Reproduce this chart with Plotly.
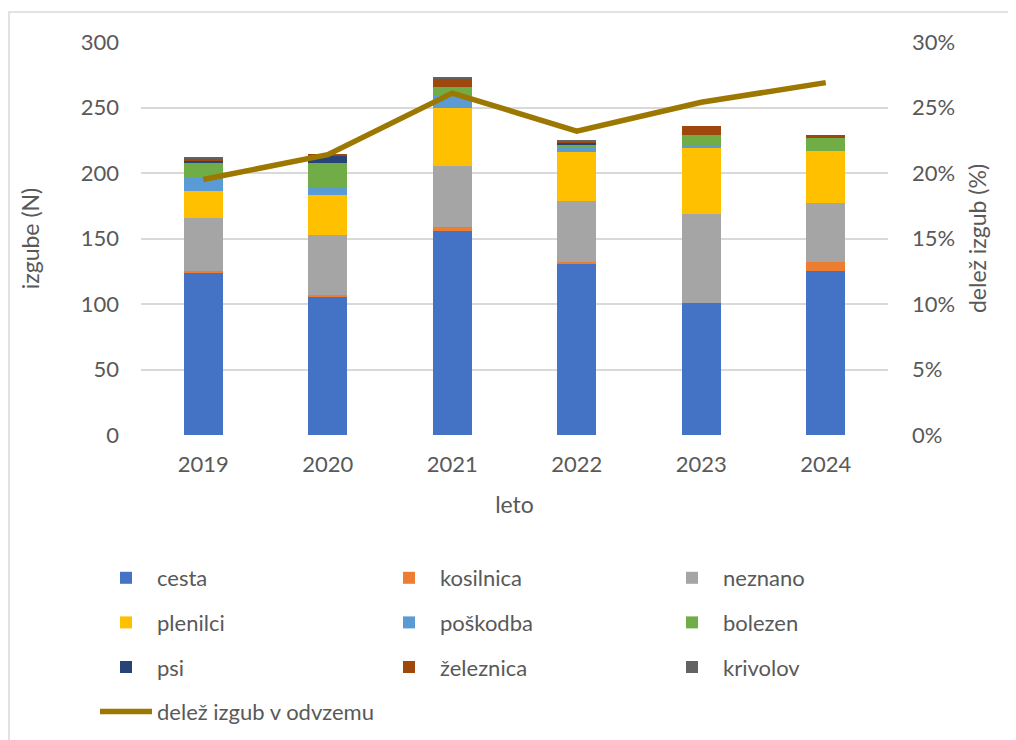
import plotly.graph_objects as go

years = ["2019", "2020", "2021", "2022", "2023", "2024"]

cesta = [124, 105, 156, 131, 101, 125]
kosilnica = [1, 2, 3, 1, 0, 7]
neznano = [41, 46, 46, 47, 68, 45]
plenilci = [20, 30, 45, 37, 50, 40]
poskodba = [10, 6, 9, 3, 2, 0]
bolezen = [12, 19, 7, 3, 8, 10]
psi = [1, 5, 0, 1, 0, 0]
zeleznica = [2, 1, 6, 1, 7, 2]
krivolov = [1, 0, 1, 1, 0, 0]
delez = [0.195, 0.214, 0.261, 0.232, 0.254, 0.269]

series = [
    ("cesta", cesta, "#4472C4"),
    ("kosilnica", kosilnica, "#ED7D31"),
    ("neznano", neznano, "#A5A5A5"),
    ("plenilci", plenilci, "#FFC000"),
    ("poškodba", poskodba, "#5B9BD5"),
    ("bolezen", bolezen, "#70AD47"),
    ("psi", psi, "#264478"),
    ("železnica", zeleznica, "#9E480E"),
    ("krivolov", krivolov, "#636363"),
]

FONT = "Lato, Carlito, Calibri, sans-serif"
TXT = "#595959"
GRID = "#D9D9D9"
FS = 22

fig = go.Figure()
for i, (name, vals, col) in enumerate(series):
    fig.add_trace(go.Bar(x=years, y=vals, name=name, legendgroup=f"g{i}",
                         marker=dict(color=col, line=dict(width=0))))

fig.add_trace(go.Scatter(x=years, y=delez, name="delež izgub v odvzemu", yaxis="y2",
                         legendgroup="gline", mode="lines",
                         line=dict(color="#9C7800", width=5.5)))

# page has an 8px body margin: work in reference pixels and shift
OFF = 8
W, H = 1016 - OFF, 740 - OFF
L, R, T, B = 141 - OFF, 888 - OFF, 42 - OFF, 435 - OFF
pw, ph = R - L, B - T


def px(x):
    return (x - OFF - L) / pw


def py(y):
    return (B - (y - OFF)) / ph


fig.update_layout(
    width=W, height=H,
    margin=dict(l=L, r=W - R, t=T, b=H - B, pad=0, autoexpand=False),
    barmode="stack", bargap=0.687,
    plot_bgcolor="white", paper_bgcolor="white",
    font=dict(family=FONT, size=FS, color=TXT),
    showlegend=True,
    legend=dict(orientation="h", x=px(95), y=py(557), xanchor="left", yanchor="top",
                entrywidth=283 - 67, entrywidthmode="pixels", traceorder="grouped",
                tracegroupgap=13, itemwidth=52,
                font=dict(family=FONT, size=FS, color=TXT),
                bgcolor="rgba(0,0,0,0)"),
    xaxis=dict(showgrid=False, showline=False, zeroline=False, ticks="",
               tickfont=dict(size=FS, color=TXT), ticklabelstandoff=14,
               title=dict(text="leto", font=dict(size=FS + 1, color=TXT), standoff=20)),
    yaxis=dict(range=[0, 300], dtick=50, showgrid=True, gridcolor=GRID, gridwidth=1.5,
               zeroline=False, showline=False, ticks="", ticklabelstandoff=21,
               tickfont=dict(size=FS, color=TXT),
               title=dict(text="izgube (N)", font=dict(size=FS + 1, color=TXT), standoff=34)),
    yaxis2=dict(range=[0, 0.3], dtick=0.05, tickformat=".0%", overlaying="y", side="right",
                showgrid=False, zeroline=False, showline=False, ticks="", ticklabelstandoff=23,
                tickfont=dict(size=FS, color=TXT),
                title=dict(text="delež izgub (%)", font=dict(size=FS + 1, color=TXT), standoff=15)),
)

fig.add_shape(type="rect", xref="paper", yref="paper",
              x0=px(9), x1=px(1015), y0=py(760), y1=py(12),
              line=dict(color=GRID, width=1.5), fillcolor="rgba(0,0,0,0)", layer="below")

fig.write_html("out.html")
